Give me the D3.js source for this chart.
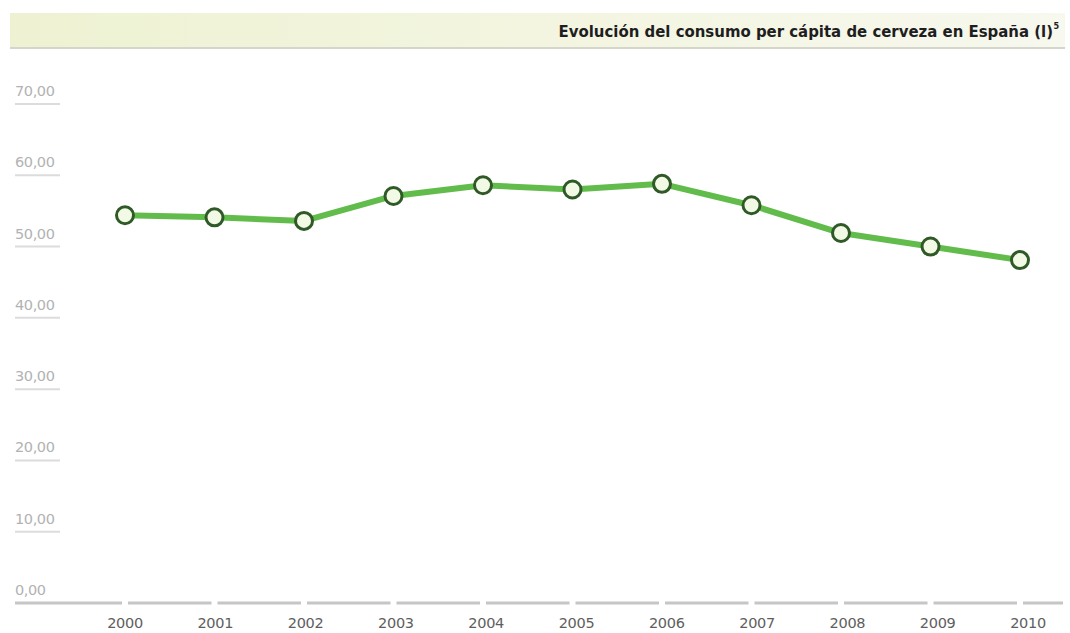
<!DOCTYPE html>
<html><head><meta charset="utf-8">
<script src="https://cdn.jsdelivr.net/npm/d3@7"></script>
<style>body{margin:0;background:#fff;}svg{display:block;}</style>
</head><body>
<svg id="c" width="1070" height="633"></svg>
<script>
const years = ["2000","2001","2002","2003","2004","2005","2006","2007","2008","2009","2010"];
const consumo = [54.4, 54.1, 53.6, 57.1, 58.6, 58.0, 58.8, 55.8, 51.9, 50.0, 48.1];
const yTicks = [0,10,20,30,40,50,60,70];
const titleText = "Evolución del consumo per cápita de cerveza en España (l)";
const titleSup = "5";

const svg = d3.select("#c");
const defs = svg.append("defs");
const grad = defs.append("linearGradient").attr("id","hg").attr("x1","0").attr("x2","1");
grad.append("stop").attr("offset","0").attr("stop-color","#eef2d2");
grad.append("stop").attr("offset","0.5").attr("stop-color","#f3f5e0");
grad.append("stop").attr("offset","1").attr("stop-color","#f7f8ee");

// header band
svg.append("rect").attr("x",10).attr("y",13).attr("width",1055).attr("height",35).attr("fill","url(#hg)");
svg.append("line").attr("x1",10).attr("x2",1065).attr("y1",48).attr("y2",48).attr("stroke","#d4d6cc").attr("stroke-width",2);
const t = svg.append("text").attr("x",1053).attr("y",37).attr("text-anchor","end")
  .attr("font-family","'DejaVu Sans Condensed','Liberation Sans Narrow',sans-serif")
  .attr("font-weight","bold").attr("font-size",16.6).attr("fill","#1e1e1e").text(titleText);
svg.append("text").attr("x",1053.5).attr("y",29).attr("font-family","'DejaVu Sans Condensed',sans-serif")
  .attr("font-weight","bold").attr("font-size",9).attr("fill","#1e1e1e").text(titleSup);

const x = d3.scalePoint().domain(years).range([125,1020]);
const y = d3.scaleLinear().domain([0,70]).range([603,104]);

// y tick labels and small dashes
const yg = svg.append("g");
yTicks.forEach(v=>{
  yg.append("text").attr("x",15).attr("y",y(v)-8).attr("font-family","'DejaVu Sans',sans-serif")
    .attr("font-size",14.5).attr("fill","#b2b2b2").attr("letter-spacing","-0.4").text(d3.format(".2f")(v).replace(".",","));
  if (v>0) yg.append("line").attr("x1",15).attr("x2",60).attr("y1",y(v)).attr("y2",y(v)).attr("stroke","#dcdcdc").attr("stroke-width",2);
});

// baseline with gaps at each year
const edges = [15, ...years.map(d=>x(d)), 1063];
for (let i=0;i<edges.length-1;i++){
  const a = edges[i] + (i===0?0:3), b = edges[i+1] - (i+1===edges.length-1?0:3);
  svg.append("line").attr("x1",a).attr("x2",b).attr("y1",603).attr("y2",603).attr("stroke","#c6c6c6").attr("stroke-width",3);
}

// x labels
svg.append("g").selectAll("text").data(years).join("text")
  .attr("x",(d,i)=>x(d)+i*0.8).attr("y",628).attr("text-anchor","middle")
  .attr("font-family","'DejaVu Sans',sans-serif").attr("font-size",14.5).attr("fill","#5e5e5e").attr("letter-spacing","-0.3").text(d=>d);

// line
const line = d3.line().x((d,i)=>x(years[i])).y(d=>y(d));
svg.append("path").datum(consumo).attr("d",line).attr("fill","none").attr("stroke","#62bc4c").attr("stroke-width",6).attr("stroke-linejoin","round");
svg.append("g").selectAll("circle").data(consumo).join("circle")
  .attr("cx",(d,i)=>x(years[i])).attr("cy",d=>y(d)).attr("r",8.5)
  .attr("fill","#f2f9e4").attr("stroke","#2f5a28").attr("stroke-width",3);
</script>
</body></html>
